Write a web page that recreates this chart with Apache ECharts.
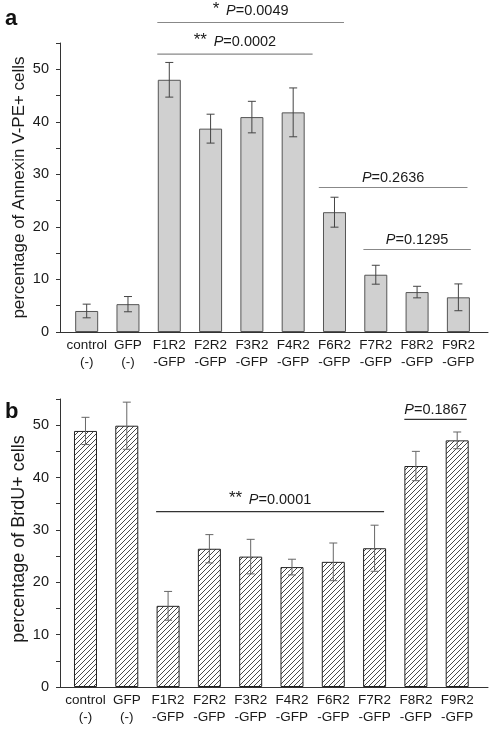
<!DOCTYPE html>
<html><head><meta charset="utf-8">
<script src="https://cdn.jsdelivr.net/npm/echarts@6/dist/echarts.min.js"></script>
<style>html,body{margin:0;padding:0;background:#fff}#c{width:495px;height:730px}</style>
</head><body><div id="c"></div>
<script>
// ---------- data ----------
const categories = ['control\n(-)', 'GFP\n(-)', 'F1R2\n-GFP', 'F2R2\n-GFP', 'F3R2\n-GFP', 'F4R2\n-GFP', 'F6R2\n-GFP', 'F7R2\n-GFP', 'F8R2\n-GFP', 'F9R2\n-GFP'];
const annexinValues = [4.0, 5.3, 48.0, 38.7, 40.9, 41.8, 22.8, 10.9, 7.6, 6.6];
const annexinErrors = [1.3, 1.45, 3.3, 2.75, 3.0, 4.65, 2.85, 1.8, 1.1, 2.55];
const brduValues = [48.9, 49.9, 15.5, 26.4, 24.9, 22.9, 23.9, 26.5, 42.2, 47.1];
const brduErrors = [2.6, 4.5, 2.75, 2.7, 3.3, 1.5, 3.6, 4.4, 2.8, 1.6];
const yTickValues = [0, 5, 10, 15, 20, 25, 30, 35, 40, 45, 50, 55];
const yLabelValues = [0, 10, 20, 30, 40, 50];
// significance brackets: [fromIndex, toIndex, level(%)]
const annexinSigSpans = [[1.71, 6.23, 58.9], [1.71, 5.47, 52.9], [5.62, 9.22, 27.5], [6.70, 9.30, 15.7]];
const annexinSigStars = ['*', '**', '', ''];
const annexinSigP = ['0.0049', '0.0002', '0.2636', '0.1295'];
const brduSigSpans = [[1.71, 7.23, 33.5], [7.72, 9.23, 51.1]];
const brduSigStars = ['**', ''];
const brduSigP = ['0.0001', '0.1867'];
const annexinName = 'percentage of Annexin V-PE+ cells';
const brduName = 'percentage of BrdU+ cells';

// ---------- rendering ----------
const FONT = "'Liberation Sans', Arial, Helvetica, sans-serif";
const chart = echarts.init(document.getElementById('c'), null, {renderer: 'canvas'});

function hatch() {
  const c = document.createElement('canvas');
  c.width = 5; c.height = 5;
  const g = c.getContext('2d');
  g.fillStyle = '#fff'; g.fillRect(0, 0, 5, 5);
  g.strokeStyle = '#333'; g.lineWidth = 0.9;
  g.beginPath();
  g.moveTo(-1, 6); g.lineTo(6, -1);
  g.moveTo(-1, 1); g.lineTo(1, -1);
  g.moveTo(4, 6); g.lineTo(6, 4);
  g.stroke();
  return c;
}

function xAxisCfg(gi, min, max) {
  return {
    type: 'value', gridIndex: gi, min: min, max: max,
    axisLine: {show: true, onZero: false, lineStyle: {color: '#333', width: 1}},
    axisTick: {show: false},
    splitLine: {show: false},
    axisLabel: {
      customValues: categories.map((c, i) => i),
      formatter: v => categories[Math.round(v)] || '',
      fontSize: 13.5, lineHeight: 17, color: '#1a1a1a', fontFamily: FONT, margin: 5
    }
  };
}
function yAxisCfg(gi, name, nameSize, namePad) {
  return {
    type: 'value', gridIndex: gi, min: 0, max: 55,
    name: name, nameLocation: 'middle', nameGap: 32, nameMoveOverlap: false,
    nameTextStyle: {fontSize: nameSize, color: '#1a1a1a', fontFamily: FONT, padding: namePad},
    axisLine: {show: true, onZero: false, lineStyle: {color: '#333', width: 1}},
    axisTick: {show: true, length: 4, customValues: yTickValues, lineStyle: {color: '#333'}},
    splitLine: {show: false},
    axisLabel: {customValues: yLabelValues, fontSize: 14.5, color: '#1a1a1a', fontFamily: FONT, margin: 11}
  };
}

function errRender(color) {
  return function (params, api) {
    const x = api.value(0);
    const top = api.coord([x, api.value(2)]);
    const bot = api.coord([x, api.value(1)]);
    const w = 4;
    return {
      type: 'group',
      children: [
        {type: 'line', shape: {x1: top[0], y1: top[1], x2: bot[0], y2: bot[1]}, style: {stroke: color, lineWidth: 1}},
        {type: 'line', shape: {x1: top[0] - w, y1: top[1], x2: top[0] + w, y2: top[1]}, style: {stroke: color, lineWidth: 1}},
        {type: 'line', shape: {x1: bot[0] - w, y1: bot[1], x2: bot[0] + w, y2: bot[1]}, style: {stroke: color, lineWidth: 1}}
      ]
    };
  };
}
function sigRender(stars, pvals, lineColor) {
  return function (params, api) {
    const a = api.coord([api.value(0), api.value(2)]);
    const b = api.coord([api.value(1), api.value(2)]);
    const i = params.dataIndex;
    const s = stars[i] ? '{st|' + stars[i] + '}  ' : '';
    return {
      type: 'group',
      children: [
        {type: 'line', shape: {x1: a[0], y1: a[1], x2: b[0], y2: b[1]}, style: {stroke: lineColor, lineWidth: 1.2}},
        {type: 'text', x: (a[0] + b[0]) / 2, y: a[1] - 2,
          style: {
            text: s + '{it|P}{n|=' + pvals[i] + '}',
            align: 'center', verticalAlign: 'bottom',
            rich: {
              st: {fontSize: 17, fontFamily: FONT, fill: '#1a1a1a', padding: [0, 0, 3, 0]},
              it: {fontSize: 14.5, fontFamily: FONT, fontStyle: 'italic', fill: '#1a1a1a'},
              n: {fontSize: 14.5, fontFamily: FONT, fill: '#1a1a1a'}
            }
          }}
      ]
    };
  };
}

const pts = (vals) => vals.map((v, i) => [i, v]);
const errs = (vals, e) => vals.map((v, i) => [i, v - e[i], v + e[i]]);

const option = {
  animation: false,
  backgroundColor: '#fff',
  title: [
    {text: 'a', left: 0, top: 3, textStyle: {fontSize: 22, fontWeight: 'bold', color: '#111', fontFamily: FONT}},
    {text: 'b', left: 0, top: 396, textStyle: {fontSize: 22, fontWeight: 'bold', color: '#111', fontFamily: FONT}}
  ],
  grid: [
    {left: 60, right: 7, top: 43, height: 289},
    {left: 60, right: 7, top: 399, height: 288}
  ],
  xAxis: [xAxisCfg(0, -0.646, 9.717), xAxisCfg(1, -0.617, 9.746)],
  yAxis: [yAxisCfg(0, annexinName, 17, [0, 0, 0, 0]), yAxisCfg(1, brduName, 18, [0, 0, 0, 8])],
  series: [
    {type: 'bar', xAxisIndex: 0, yAxisIndex: 0, barWidth: 23, data: pts(annexinValues),
      itemStyle: {color: '#d0d0d0', borderColor: '#555', borderWidth: 1}},
    {type: 'custom', xAxisIndex: 0, yAxisIndex: 0, data: errs(annexinValues, annexinErrors),
      renderItem: errRender('#444'), clip: false, z: 5},
    {type: 'custom', xAxisIndex: 0, yAxisIndex: 0, data: annexinSigSpans,
      renderItem: sigRender(annexinSigStars, annexinSigP, '#888'), clip: false, z: 5},
    {type: 'bar', xAxisIndex: 1, yAxisIndex: 1, barWidth: 23, data: pts(brduValues),
      itemStyle: {color: {image: hatch(), repeat: 'repeat'}, borderColor: '#222', borderWidth: 1}},
    {type: 'custom', xAxisIndex: 1, yAxisIndex: 1, data: errs(brduValues, brduErrors),
      renderItem: errRender('#666'), clip: false, z: 5},
    {type: 'custom', xAxisIndex: 1, yAxisIndex: 1, data: brduSigSpans,
      renderItem: sigRender(brduSigStars, brduSigP, '#333'), clip: false, z: 5}
  ]
};
chart.setOption(option);
</script>
</body></html>
